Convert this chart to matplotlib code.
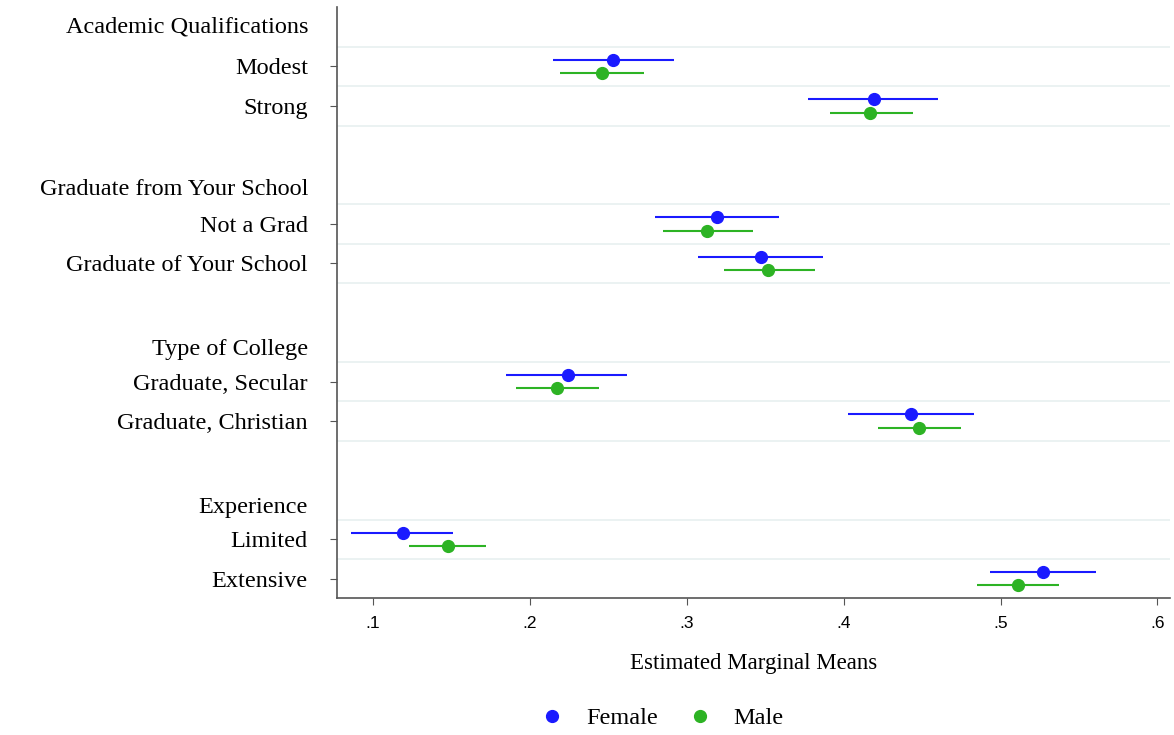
import matplotlib
matplotlib.use("Agg")
import matplotlib.pyplot as plt
import numpy as np

# ---- data ----
groups = ["Academic Qualifications", "Graduate from Your School", "Type of College", "Experience"]
levels = [["Modest", "Strong"],
          ["Not a Grad", "Graduate of Your School"],
          ["Graduate, Secular", "Graduate, Christian"],
          ["Limited", "Extensive"]]

female_mean = [0.253, 0.419, 0.319, 0.347, 0.224, 0.443, 0.119, 0.527]
female_lo   = [0.215, 0.377, 0.280, 0.307, 0.185, 0.403, 0.086, 0.493]
female_hi   = [0.292, 0.460, 0.359, 0.387, 0.262, 0.483, 0.151, 0.561]

male_mean = [0.246, 0.417, 0.313, 0.352, 0.217, 0.448, 0.148, 0.511]
male_lo   = [0.219, 0.391, 0.285, 0.324, 0.191, 0.422, 0.123, 0.485]
male_hi   = [0.273, 0.444, 0.342, 0.382, 0.244, 0.475, 0.172, 0.537]

xticks = [0.1, 0.2, 0.3, 0.4, 0.5, 0.6]
xticklabels = [".1", ".2", ".3", ".4", ".5", ".6"]

blue = "#1a1aff"
green = "#2db324"

fig = plt.figure(figsize=(11.74, 7.35), dpi=100)
ax = fig.add_axes([337/1174, 1-598/735, (1170-337)/1174, (598-7)/735])

serif = ["Liberation Serif", "DejaVu Serif"]
sans = ["Liberation Sans", "DejaVu Sans"]

# row positions
level_rows = []
header_rows = []
row = 0
for g, lv in zip(groups, levels):
    header_rows.append(row)
    row += 1
    for _ in lv:
        level_rows.append(row)
        row += 1
    row += 1

level_rows = np.array(level_rows, dtype=float)
off = 0.17
header_shift = [0.0, 0.12, 0.18, 0.2]

# grid lines (between rows)
grid_y = []
for hr, lv in zip(header_rows, levels):
    for k in range(len(lv) + 1):
        grid_y.append(hr + 0.5 + k)
for gy in grid_y:
    if gy < 14.4:
        ax.axhline(gy, color="#e8f0f0", lw=1.2, zorder=0)

fy = level_rows - off
my = level_rows + off
ax.hlines(fy, female_lo, female_hi, color=blue, lw=1.5, zorder=2)
ax.plot(female_mean, fy, "o", color=blue, ms=8.5, zorder=3, label="Female")
ax.hlines(my, male_lo, male_hi, color=green, lw=1.5, zorder=2)
ax.plot(male_mean, my, "o", color=green, ms=8.5, zorder=3, label="Male")

ax.set_ylim(14.49, -0.51)
ax.set_xlim(0.077, 0.608)

flat_levels = [l for lv in levels for l in lv]
ax.set_yticks(level_rows)
ax.set_yticklabels(flat_levels, fontfamily=serif, fontsize=17.5)
for hr, sh, g in zip(header_rows, header_shift, groups):
    ax.text(-0.0348, hr + sh, g, transform=ax.get_yaxis_transform(), ha="right", va="center",
            fontfamily=serif, fontsize=17.5)

ax.set_xticks(xticks)
ax.set_xticklabels(xticklabels, fontfamily=sans, fontsize=12.5)
ax.set_xlabel("Estimated Marginal Means", fontfamily=serif, fontsize=16.5, labelpad=16)

for s in ["top", "right"]:
    ax.spines[s].set_visible(False)
for s in ["left", "bottom"]:
    ax.spines[s].set_color("#555555")
    ax.spines[s].set_linewidth(1.2)
ax.tick_params(axis="y", length=5, color="#555555", pad=16)
ax.tick_params(axis="x", length=5, color="#555555", pad=8)

leg = fig.legend(loc="center", bbox_to_anchor=(662/1174, 1-718/735), ncol=2, frameon=False,
                 prop={"family": serif, "size": 17.5}, handletextpad=0.9, columnspacing=1.2,
                 handlelength=1.0)

fig.savefig("out.png", dpi=100)
